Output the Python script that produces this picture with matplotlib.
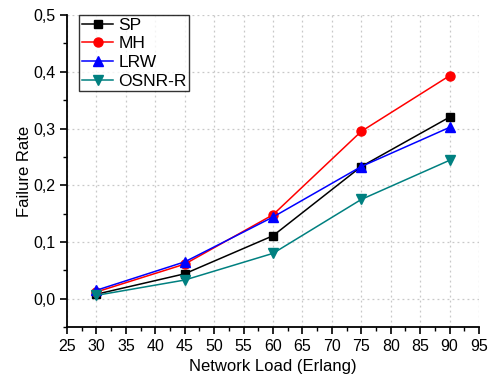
import matplotlib
matplotlib.use("Agg")
import matplotlib.pyplot as plt
from matplotlib.ticker import MultipleLocator, FuncFormatter

plt.rcParams["font.family"] = ["Liberation Sans", "DejaVu Sans"]

# Network load (Erlang) and failure rate per routing scheme
loads = [30, 45, 60, 75, 90]
sp = [0.008, 0.044, 0.111, 0.233, 0.320]
mh = [0.012, 0.061, 0.148, 0.295, 0.393]
lrw = [0.015, 0.065, 0.144, 0.233, 0.302]
osnr_r = [0.006, 0.033, 0.080, 0.175, 0.244]

fig = plt.figure(figsize=(4.91, 3.76), dpi=100)
ax = fig.add_axes([0.1365, 0.130, 0.839, 0.830])

ax.plot(loads, sp, color="black", marker="s", ms=6, lw=1.1, label="SP")
ax.plot(loads, mh, color="red", marker="o", ms=6.5, lw=1.1, label="MH")
ax.plot(loads, lrw, color="blue", marker="^", ms=7, lw=1.1, label="LRW")
ax.plot(loads, osnr_r, color="#008080", marker="v", ms=7, lw=1.1, label="OSNR-R")

ax.set_xlim(25, 95)
ax.set_ylim(-0.05, 0.5)
ax.xaxis.set_major_locator(MultipleLocator(5))
ax.xaxis.set_minor_locator(MultipleLocator(2.5))
ax.yaxis.set_major_locator(MultipleLocator(0.1))
ax.yaxis.set_minor_locator(MultipleLocator(0.05))
ax.yaxis.set_major_formatter(FuncFormatter(lambda v, p: f"{v:.1f}".replace(".", ",").replace("-0,0", "0,0")))

ax.grid(True, which="major", color="#c8c8c8", ls=(0, (1.5, 2.5)), lw=0.9)
ax.set_axisbelow(True)
for side in ("top", "right"):
    ax.spines[side].set_visible(False)
for side in ("left", "bottom"):
    ax.spines[side].set_linewidth(1.3)

ax.tick_params(which="major", direction="out", length=5, width=1.2, labelsize=11.5, colors="black")
ax.tick_params(which="minor", direction="out", length=3, width=1.0)

ax.set_xlabel("Network Load (Erlang)", fontsize=12, labelpad=4)
ax.set_ylabel("Failure Rate", fontsize=12, labelpad=1)

leg = ax.legend(loc="upper left", bbox_to_anchor=(0.03, 1.0), fontsize=12.5,
                frameon=True, fancybox=False, edgecolor="black",
                handlelength=1.8, borderpad=0.15, labelspacing=0.2,
                handletextpad=0.3, borderaxespad=0.0)
leg.get_frame().set_linewidth(1.0)

fig.savefig("out.png", dpi=100)
